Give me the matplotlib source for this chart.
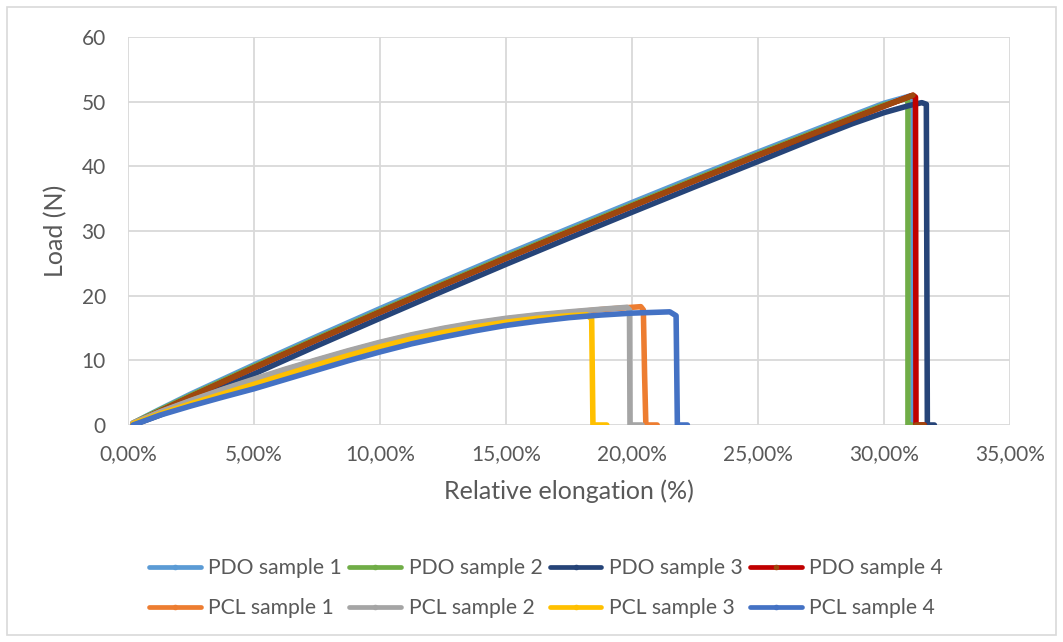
import matplotlib
matplotlib.use("Agg")
import matplotlib.pyplot as plt
from matplotlib.lines import Line2D
from matplotlib.patches import Rectangle

# Tensile test curves: relative elongation (%) vs load (N)
pdo1_x = [0.2, 1.25, 2.5, 5, 7.5, 10, 12.5, 15, 17.5, 20, 22.5, 25, 27.5, 30, 31.05, 31.15, 31.15]
pdo1_y = [0.3, 2.4, 4.8, 9.3, 13.7, 18.0, 22.2, 26.35, 30.4, 34.4, 38.35, 42.2, 46.0, 49.75, 50.9, 50.3, 0]

pdo2_x = [0.2, 1.25, 2.5, 5, 7.5, 10, 12.5, 15, 17.5, 20, 22.5, 25, 27.5, 30, 30.9, 30.95, 30.95, 31.1]
pdo2_y = [0.3, 2.3, 4.6, 9.05, 13.4, 17.65, 21.85, 26.0, 30.05, 34.05, 38.0, 41.9, 45.7, 49.5, 50.5, 49.9, 0, 0]

pdo3_x = [0.2, 1.25, 2.5, 5, 7.5, 10, 12.5, 15, 17.5, 20, 22.5, 25, 27.5, 28.75, 30, 31.0, 31.5,
          31.68, 31.72, 32.0]
pdo3_y = [0.0, 1.5, 3.6, 7.9, 12.25, 16.5, 20.7, 24.85, 28.9, 32.9, 36.85, 40.75, 44.7, 46.6, 48.3,
          49.4, 49.85, 49.6, 0, 0]

pdo4_x = [0.2, 1.25, 2.5, 5, 7.5, 10, 12.5, 15, 17.5, 20, 22.5, 25, 27.5, 30, 31.15, 31.25, 31.27, 31.6]
pdo4_y = [0.2, 2.1, 4.4, 8.85, 13.2, 17.45, 21.65, 25.8, 29.85, 33.85, 37.8, 41.7, 45.5, 49.3, 51.0, 50.7, 0, 0]

pcl1_x = [0.2, 1.25, 2.5, 3.75, 5, 6.25, 7.5, 8.75, 10, 11.25, 12.5, 13.75, 15, 16.25, 17.5,
          18.75, 20.0, 20.35, 20.45, 20.5, 20.55, 21.0]
pcl1_y = [0.3, 1.95, 3.75, 5.45, 7.0, 8.55, 10.0, 11.4, 12.7, 13.85, 14.85, 15.7, 16.4, 16.95,
          17.4, 17.85, 18.2, 18.3, 17.8, 7.7, 0, 0]

pcl2_x = [0.2, 1.25, 2.5, 3.75, 5, 6.25, 7.5, 8.75, 10, 11.25, 12.5, 13.75, 15, 16.25, 17.5,
          18.75, 19.8, 19.9, 19.92, 20.4]
pcl2_y = [0.3, 2.0, 3.8, 5.5, 7.1, 8.65, 10.1, 11.5, 12.8, 13.95, 14.95, 15.8, 16.5, 17.05,
          17.5, 17.9, 18.2, 17.8, 0, 0]

pcl3_x = [0.2, 1.25, 2.5, 3.75, 5, 6.25, 7.5, 8.75, 10, 11.25, 12.5, 13.75, 15, 16.25, 17.5,
          18.2, 18.4, 18.45, 19.0]
pcl3_y = [0.2, 1.7, 3.3, 4.8, 6.3, 7.8, 9.3, 10.75, 12.1, 13.3, 14.3, 15.15, 15.9, 16.5,
          16.9, 17.05, 16.4, 0, 0]

pcl4_x = [0.2, 1.25, 2.5, 3.75, 5, 6.25, 7.5, 8.75, 10, 11.25, 12.5, 13.75, 15, 16.25, 17.5,
          18.75, 20, 21.5, 21.75, 21.8, 22.2]
pcl4_y = [0.0, 1.5, 2.95, 4.3, 5.6, 7.05, 8.5, 9.95, 11.3, 12.55, 13.6, 14.55, 15.4, 16.05,
          16.6, 17.0, 17.3, 17.5, 16.9, 0, 0]

labels = ["PDO sample 1", "PDO sample 2", "PDO sample 3", "PDO sample 4",
          "PCL sample 1", "PCL sample 2", "PCL sample 3", "PCL sample 4"]
line_colors = ["#5B9BD5", "#70AD47", "#264478", "#C00000",
               "#ED7D31", "#A5A5A5", "#FFC000", "#4472C4"]
marker_colors = ["#5B9BD5", "#70AD47", "#264478", "#9E480E",
                 "#ED7D31", "#A5A5A5", "#FFC000", "#4472C4"]

x_ticks = [0, 5, 10, 15, 20, 25, 30, 35]
y_ticks = [0, 10, 20, 30, 40, 50, 60]

series = [(pdo1_x, pdo1_y), (pdo2_x, pdo2_y), (pdo3_x, pdo3_y), (pdo4_x, pdo4_y),
          (pcl1_x, pcl1_y), (pcl2_x, pcl2_y), (pcl3_x, pcl3_y), (pcl4_x, pcl4_y)]

plt.rcParams['font.family'] = ['Lato', 'DejaVu Sans']
text_color = "#595959"
grid_color = "#D9D9D9"

fig = plt.figure(figsize=(10.63, 6.42), dpi=100)
fig.patches.append(Rectangle((7 / 1063, 7 / 642), 1049 / 1063, 628 / 642,
                             transform=fig.transFigure, fill=False,
                             edgecolor=grid_color, linewidth=1.2))
ax = fig.add_axes([128 / 1063, 1 - 425 / 642, 882 / 1063, 388 / 642])

lw = 4.0
style = dict(linewidth=lw, solid_capstyle='round', solid_joinstyle='round')
for i, (xs, ys) in enumerate(series):
    ax.plot(xs, ys, color=line_colors[i], zorder=3 + i, **style)
    if i == 3:
        # dense markers cover the rising part and the tail of this series
        k = ys.index(max(ys)) + 1
        ax.plot(xs[:k], ys[:k], color=marker_colors[i], zorder=3 + i, **style)
        ax.plot(xs[-2:], ys[-2:], color=marker_colors[i], zorder=3 + i, **style)

ax.set_xlim(0, 35)
ax.set_ylim(0, 60)
ax.set_xticks(x_ticks)
ax.set_xticklabels([f"{v:.2f}".replace(".", ",") + "%" for v in x_ticks])
ax.set_yticks(y_ticks)
ax.set_yticklabels([str(v) for v in y_ticks])
ax.grid(True, color=grid_color, linewidth=1.3, zorder=0)
ax.set_axisbelow(True)
for side in ["top", "right", "left", "bottom"]:
    ax.spines[side].set_visible(False)
ax.tick_params(axis='both', length=0, labelsize=15, labelcolor=text_color)
ax.tick_params(axis='x', pad=14)
ax.tick_params(axis='y', pad=16)
ax.set_xlabel("Relative elongation (%)", fontsize=18, color=text_color, labelpad=11)
ax.set_ylabel("Load (N)", fontsize=18, color=text_color, labelpad=10)

handles = [Line2D([], [], color=line_colors[i], linewidth=3.4,
                  marker='o', markersize=3, markerfacecolor=marker_colors[i],
                  markeredgecolor=marker_colors[i], solid_capstyle='round')
           for i in range(8)]
# legend fills column by column; interleave so each row holds one material
order = [0, 4, 1, 5, 2, 6, 3, 7]
leg = fig.legend([handles[j] for j in order], [labels[j] for j in order],
                 loc='center', bbox_to_anchor=(546 / 1063, 1 - 588 / 642),
                 ncol=4, frameon=False, fontsize=15.2, handlelength=2.45,
                 handletextpad=0.35, columnspacing=0.35, labelspacing=0.95)
for t in leg.get_texts():
    t.set_color(text_color)

fig.savefig("out.png", dpi=100)
